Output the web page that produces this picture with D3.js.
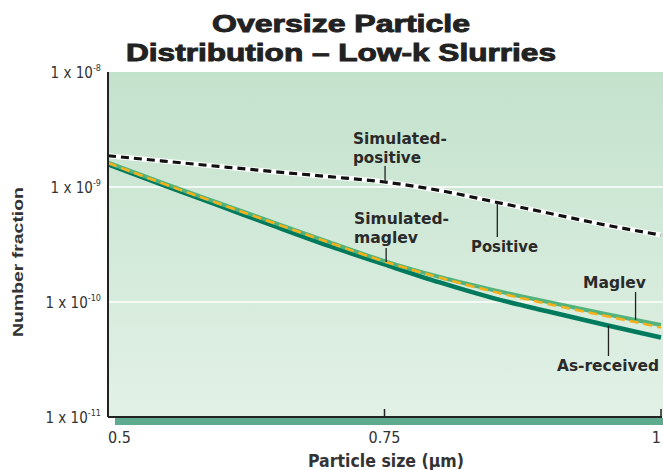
<!DOCTYPE html>
<html><head><meta charset="utf-8">
<script src="https://cdn.jsdelivr.net/npm/d3@7"></script>
<style>
html,body{margin:0;padding:0;background:#fff;}
svg{display:block;}
</style></head>
<body><svg id="c" width="663" height="470"></svg>
<script>
// ---- data ----
const xTicks = [0.5, 0.75, 1];
const xTickLabels = ["0.5", "0.75", "1"];
const yTicks = [1e-11, 1e-10, 1e-9, 1e-8];
const yTickExp = ["-11", "-10", "-9", "-8"];
const gridValues = [1e-10, 1e-9];
const sizes = [0.5, 0.55, 0.6, 0.65, 0.7, 0.75, 0.8, 0.85, 0.9, 0.95, 1.0];
const asReceived = [1.57e-9, 1.04e-9, 6.91e-10, 4.58e-10, 3.07e-10, 2.12e-10, 1.48e-10, 1.07e-10, 8.19e-11, 6.31e-11, 4.91e-11];
const maglev = [1.63e-9, 1.08e-9, 7.26e-10, 4.91e-10, 3.32e-10, 2.27e-10, 1.65e-10, 1.26e-10, 9.90e-11, 7.87e-11, 6.31e-11];
const simMaglev = [1.62e-9, 1.07e-9, 7.19e-10, 4.86e-10, 3.29e-10, 2.25e-10, 1.63e-10, 1.22e-10, 9.51e-11, 7.56e-11, 6.00e-11];
const positive = [1.87e-9, 1.68e-9, 1.51e-9, 1.36e-9, 1.23e-9, 1.105e-9, 9.32e-10, 7.41e-10, 5.88e-10, 4.67e-10, 3.82e-10];
const simPositive = [1.87e-9, 1.68e-9, 1.51e-9, 1.36e-9, 1.23e-9, 1.105e-9, 9.32e-10, 7.41e-10, 5.88e-10, 4.67e-10, 3.82e-10];
const titleLines = ["Oversize Particle", "Distribution \u2013 Low-k Slurries"];
const xTitle = "Particle size (\u03bcm)";
const yTitle = "Number fraction";

// ---- layout ----
const svg = d3.select("#c");
const L = 108, R = 661, T = 72, B = 417;
const x = d3.scaleLinear().domain([0.5, 1]).range([L, R]);
const y = d3.scaleLog().domain([1e-11, 1e-8]).range([B, T]);
const narrow = "'Liberation Sans Narrow','Arial Narrow','DejaVu Sans Condensed',sans-serif";

// background gradient
const defs = svg.append("defs");
const g = defs.append("linearGradient").attr("id","bg").attr("x1",0).attr("y1",0).attr("x2",0).attr("y2",1);
g.append("stop").attr("offset","0%").attr("stop-color","#c3e2cc");
g.append("stop").attr("offset","100%").attr("stop-color","#e2f1e6");
svg.append("rect").attr("x",L).attr("y",T).attr("width",663-L).attr("height",B-T).attr("fill","url(#bg)");

// gridlines
svg.selectAll("line.grid").data(gridValues).join("line").attr("class","grid")
  .attr("x1",L).attr("x2",663).attr("y1",d=>y(d)).attr("y2",d=>y(d))
  .attr("stroke","#ffffff").attr("stroke-width",1.6);

// green bar under axis
svg.append("rect").attr("x",115).attr("y",B+1).attr("width",663-115).attr("height",7).attr("fill","#5fab90");

// lines
const line = d3.line().x((d,i)=>x(sizes[i])).y(d=>y(d)).curve(d3.curveMonotoneX);
svg.append("path").attr("d",line(asReceived)).attr("fill","none").attr("stroke","#007a5c").attr("stroke-width",4.5);
svg.append("path").attr("d",line(maglev)).attr("fill","none").attr("stroke","#52b47c").attr("stroke-width",4);
svg.append("path").attr("d",line(simMaglev)).attr("fill","none").attr("stroke","#f6b019").attr("stroke-width",2.6).attr("stroke-dasharray","9,5");
svg.append("path").attr("d",line(positive)).attr("fill","none").attr("stroke","#ffffff").attr("stroke-width",5);
svg.append("path").attr("d",line(simPositive)).attr("fill","none").attr("stroke","#111").attr("stroke-width",3.2).attr("stroke-dasharray","8,5");

// axes
svg.append("line").attr("x1",L).attr("x2",L).attr("y1",T).attr("y2",B).attr("stroke","#222").attr("stroke-width",2);
svg.append("line").attr("x1",L).attr("x2",R+1).attr("y1",B).attr("y2",B).attr("stroke","#222").attr("stroke-width",2);
svg.selectAll("line.xt").data(xTicks.slice(1)).join("line").attr("class","xt")
  .attr("x1",d=>x(d)).attr("x2",d=>x(d)).attr("y1",B).attr("y2",B-8).attr("stroke","#222").attr("stroke-width",1.5);

// x tick labels
svg.selectAll("text.xl").data(xTicks).join("text").attr("class","xl")
  .attr("x",d=>x(d)).attr("y",443)
  .attr("text-anchor",(d,i)=>i===0?"start":(i===xTicks.length-1?"end":"middle"))
  .attr("font-family",narrow).attr("font-size",16).attr("fill","#333")
  .text((d,i)=>xTickLabels[i]);

// y tick labels
const yl = svg.selectAll("text.yl").data(yTicks).join("text").attr("class","yl")
  .attr("x",101).attr("y",d=>y(d)+6).attr("text-anchor","end")
  .attr("font-family",narrow).attr("font-size",15).attr("fill","#333");
yl.append("tspan").text("1 x 10");
yl.append("tspan").attr("font-size",9).attr("dy",-7).text((d,i)=>yTickExp[i]);

// titles
svg.selectAll("text.title").data(titleLines).join("text").attr("class","title")
  .attr("x",341).attr("y",(d,i)=>32+i*28.5).attr("text-anchor","middle")
  .attr("font-family","'Liberation Sans',Arial,sans-serif").attr("font-weight",900).attr("font-size",23)
  .attr("fill","#222").attr("stroke","#222").attr("stroke-width",0.9)
  .attr("textLength",(d,i)=>i===0?258:430).attr("lengthAdjust","spacingAndGlyphs")
  .text(d=>d);

svg.append("text").attr("x",386).attr("y",467).attr("text-anchor","middle")
  .attr("font-family",narrow).attr("font-weight","bold").attr("font-size",17).attr("fill","#333")
  .attr("textLength",156).attr("lengthAdjust","spacingAndGlyphs").text(xTitle);

svg.append("text").attr("transform","translate(23,262) rotate(-90)").attr("text-anchor","middle")
  .attr("font-family","'Liberation Sans',Arial,sans-serif").attr("font-weight","bold").attr("font-size",15).attr("fill","#333")
  .attr("textLength",150).attr("lengthAdjust","spacingAndGlyphs").text(yTitle);

// annotations
function valAt(arr, v){
  const i = Math.min(sizes.length-2, Math.max(0, d3.bisectRight(sizes, v)-1));
  const t = (v - sizes[i])/(sizes[i+1]-sizes[i]);
  return Math.pow(10, Math.log10(arr[i])*(1-t) + Math.log10(arr[i+1])*t);
}
const annotations = [
  {lines:["Simulated-","positive"], widths:[94,68], lx:353, ly:144, series:simPositive, xv:0.7505, end:166},
  {lines:["Positive"], widths:[67], lx:471, ly:251.5, series:positive, xv:0.852, end:237},
  {lines:["Simulated-","maglev"], widths:[95,64], lx:354, ly:224, series:simMaglev, xv:0.7515, end:248},
  {lines:["Maglev"], widths:[63], lx:583, ly:288, series:maglev, xv:0.977, end:292},
  {lines:["As-received"], widths:[102], lx:557, ly:371, series:asReceived, xv:0.9525, end:356}
];
annotations.forEach(a=>{
  svg.append("line").attr("x1",x(a.xv)).attr("x2",x(a.xv))
    .attr("y1",y(valAt(a.series,a.xv))).attr("y2",a.end)
    .attr("stroke","#222").attr("stroke-width",1.3);
  const t = svg.append("text").attr("x",a.lx).attr("y",a.ly)
    .attr("font-family",narrow).attr("font-weight","bold").attr("font-size",15.5).attr("fill","#2a2a2a");
  a.lines.forEach((s,i)=>{
    t.append("tspan").attr("x",a.lx).attr("dy",i===0?0:19)
      .attr("textLength",a.widths[i]).attr("lengthAdjust","spacingAndGlyphs").text(s);
  });
});
</script></body></html>
